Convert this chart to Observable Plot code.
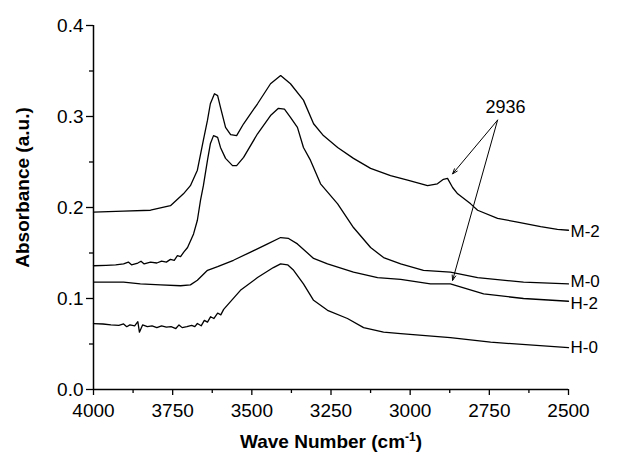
<!DOCTYPE html>
<html><head><meta charset="utf-8">
<script src="https://cdn.jsdelivr.net/npm/d3@7"></script>
<script src="https://cdn.jsdelivr.net/npm/@observablehq/plot@0.6"></script>
<style>
body{margin:0;background:#fff}
#chart svg{font-family:"Liberation Sans",Arial,sans-serif;background:#fff}
</style>
</head><body><div id="chart"></div>
<script>
// ---- data (wave number cm-1, absorbance a.u.) ----
const m2Wave = [4000,3905,3820,3757,3716,3694,3672,3653,3640,3631,3618,3608,3599,3583,3567,3548,3526,3482,3441,3409,3378,3337,3305,3274,3229,3179,3125,3062,3008,2945,2914,2895,2882,2866,2850,2809,2787,2724,2661,2588,2535,2500];
const m2Abs  = [0.195,0.196,0.197,0.202,0.215,0.224,0.241,0.274,0.296,0.314,0.325,0.323,0.310,0.288,0.280,0.279,0.292,0.314,0.336,0.345,0.336,0.318,0.292,0.279,0.266,0.254,0.243,0.235,0.230,0.224,0.226,0.231,0.232,0.222,0.215,0.204,0.197,0.188,0.184,0.179,0.176,0.175];

const m0Wave = [4000,3960,3930,3905,3890,3880,3860,3850,3840,3820,3800,3785,3770,3757,3745,3735,3725,3715,3703,3684,3672,3662,3653,3640,3631,3621,3608,3599,3583,3561,3548,3526,3482,3441,3416,3397,3378,3356,3337,3315,3283,3229,3179,3125,3084,3030,2958,2873,2787,2642,2500];
const m0Abs  = [0.136,0.1365,0.137,0.138,0.140,0.137,0.139,0.141,0.138,0.140,0.139,0.141,0.140,0.143,0.142,0.147,0.146,0.151,0.156,0.171,0.186,0.208,0.224,0.252,0.270,0.279,0.277,0.266,0.254,0.246,0.246,0.255,0.281,0.301,0.309,0.308,0.299,0.288,0.266,0.252,0.226,0.204,0.178,0.156,0.145,0.138,0.131,0.129,0.123,0.118,0.116];

const h2Wave = [4000,3950,3905,3852,3788,3725,3694,3672,3640,3608,3558,3504,3450,3409,3384,3356,3305,3261,3179,3103,3030,2936,2873,2768,2642,2500];
const h2Abs  = [0.118,0.118,0.118,0.116,0.115,0.114,0.115,0.120,0.131,0.135,0.142,0.151,0.160,0.167,0.166,0.160,0.144,0.138,0.129,0.123,0.121,0.116,0.116,0.105,0.100,0.097];

const h0Wave = [4000,3970,3945,3920,3905,3895,3885,3870,3860,3855,3845,3830,3815,3800,3785,3770,3755,3740,3730,3720,3705,3690,3680,3672,3660,3650,3640,3630,3620,3608,3598,3589,3536,3482,3432,3409,3387,3368,3337,3305,3261,3198,3147,3084,3030,2873,2746,2500];
const h0Abs  = [0.0725,0.072,0.071,0.0705,0.072,0.069,0.071,0.070,0.0745,0.063,0.071,0.069,0.070,0.068,0.070,0.0685,0.069,0.067,0.071,0.068,0.069,0.0705,0.069,0.0725,0.070,0.076,0.074,0.080,0.078,0.084,0.082,0.088,0.109,0.123,0.134,0.138,0.137,0.131,0.116,0.098,0.087,0.078,0.068,0.063,0.0615,0.057,0.052,0.046];

const seriesNames = ["M-2","M-0","H-2","H-0"];
const labelAbs = [0.174,0.119,0.095,0.046];

const yMajor = [0,0.1,0.2,0.3,0.4];
const yMinor = [0.05,0.15,0.25,0.35];
const xMajor = [4000,3750,3500,3250,3000,2750,2500];
const xMinor = [3875,3625,3375,3125,2875,2625];

const annoText = "2936";
const annoPos = [2699, 0.310];
const arrowFrom = [2724, 0.296];
const arrowTo = [[2866, 0.237],[2866, 0.120]];

// ---- build tables ----
const waves = [m2Wave,m0Wave,h2Wave,h0Wave];
const absv = [m2Abs,m0Abs,h2Abs,h0Abs];
const rows = seriesNames.flatMap((s,k) => waves[k].map((w,i) => ({series:s, wave:w, abs:absv[k][i]})));
const labels = seriesNames.map((s,k) => ({text:s, wave:2500, abs:labelAbs[k]}));
const arrows = arrowTo.map(t => ({x1:arrowFrom[0], y1:arrowFrom[1], x2:t[0], y2:t[1]}));

const chart = Plot.plot({
  width: 626, height: 457,
  marginLeft: 93, marginRight: 58, marginTop: 25, marginBottom: 68,
  x: {domain: [4000, 2500]},
  y: {domain: [0, 0.4]},
  marks: [
    Plot.axisY(yMajor, {tickSize: 7, tickPadding: 3, tickFormat: d3.format(".1f"), fontSize: 19, label: null, strokeWidth: 1.3, fill: "#000"}),
    Plot.axisY(yMinor, {tickSize: 4, tickFormat: () => "", label: null, strokeWidth: 1.3}),
    Plot.axisX(xMajor, {tickSize: 6, tickPadding: 8, tickFormat: d => String(d), fontSize: 19, label: null, strokeWidth: 1.3, fill: "#000"}),
    Plot.axisX(xMinor, {tickSize: 4, tickFormat: () => "", label: null, strokeWidth: 1.3}),
    Plot.ruleX([4000], {y1: 0, y2: 0.4, strokeWidth: 1.5}),
    Plot.ruleY([0], {x1: 4000, x2: 2500, strokeWidth: 1.5}),
    Plot.line(rows, {x: "wave", y: "abs", z: "series", stroke: "#000", strokeWidth: 1.3}),
    Plot.text(labels, {x: "wave", y: "abs", text: "text", textAnchor: "start", dx: 2, fontSize: 17, fill: "#000"}),
    Plot.arrow(arrows, {x1: "x1", y1: "y1", x2: "x2", y2: "y2", headLength: 8, headAngle: 40, strokeWidth: 1, stroke: "#000"}),
    Plot.text([annoText], {x: annoPos[0], y: annoPos[1], text: d => d, fontSize: 18, fill: "#000"}),
    Plot.text(["Absorbance (a.u.)"], {frameAnchor: "left", textAnchor: "middle", lineAnchor: "middle", dx: -71, dy: -20, rotate: -90, text: d => d, fontSize: 19, fontWeight: "bold", fill: "#000"}),
    Plot.text(["Wave Number (cm-1)"], {frameAnchor: "bottom", textAnchor: "middle", lineAnchor: "bottom", dy: 58, text: d => d, fontSize: 19, fontWeight: "bold", fill: "#000"})
  ]
});
document.getElementById("chart").appendChild(chart);

// superscript for cm-1
chart.querySelectorAll("text").forEach(t => {
  if (t.textContent === "Wave Number (cm-1)") {
    t.textContent = "";
    const ns = "http://www.w3.org/2000/svg";
    const a = document.createElementNS(ns, "tspan"); a.textContent = "Wave Number (cm";
    const b = document.createElementNS(ns, "tspan"); b.textContent = "-1"; b.setAttribute("font-size", "12"); b.setAttribute("dy", "-7");
    const c = document.createElementNS(ns, "tspan"); c.textContent = ")"; c.setAttribute("dy", "7");
    t.appendChild(a); t.appendChild(b); t.appendChild(c);
  }
});
</script>
</body></html>
